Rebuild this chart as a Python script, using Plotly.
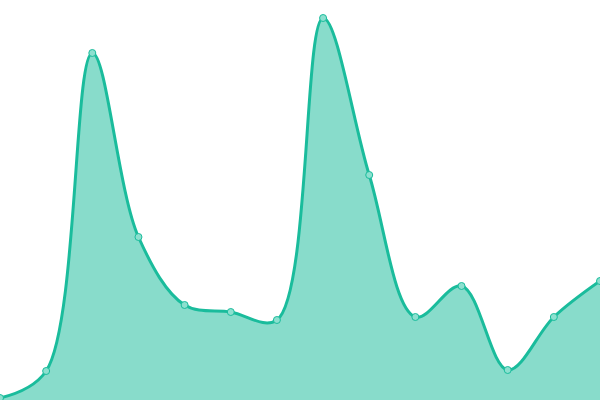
import plotly.graph_objects as go

# sample index along the x axis
steps = list(range(14))
# series values (axis runs 0..100)
values = [0.5, 7.25, 86.75, 40.75, 23.75, 22.0, 20.0, 95.5, 56.25, 20.75, 28.5, 7.5, 20.75, 29.75]

line_color = "#1abc9c"

fig = go.Figure()
fig.add_trace(go.Scatter(
    x=steps,
    y=values,
    mode="lines+markers",
    line=dict(color=line_color, width=3, shape="spline", smoothing=1),
    marker=dict(size=7, color="#8ce0cf", line=dict(color=line_color, width=1)),
    fill="tozeroy",
    fillcolor="rgba(26,188,156,0.52)",
    hoverinfo="x+y",
))

fig.update_layout(
    width=600,
    height=400,
    margin=dict(l=0, r=0, t=0, b=0),
    paper_bgcolor="white",
    plot_bgcolor="white",
    showlegend=False,
    xaxis=dict(range=[0, 13], visible=False, fixedrange=True),
    yaxis=dict(range=[0, 100], visible=False, fixedrange=True),
)

# drop the default page margin so the chart fills the window, no toolbar
fig.write_html(
    "out.html",
    config={"displayModeBar": False},
    post_script="document.body.style.margin='0';",
)
